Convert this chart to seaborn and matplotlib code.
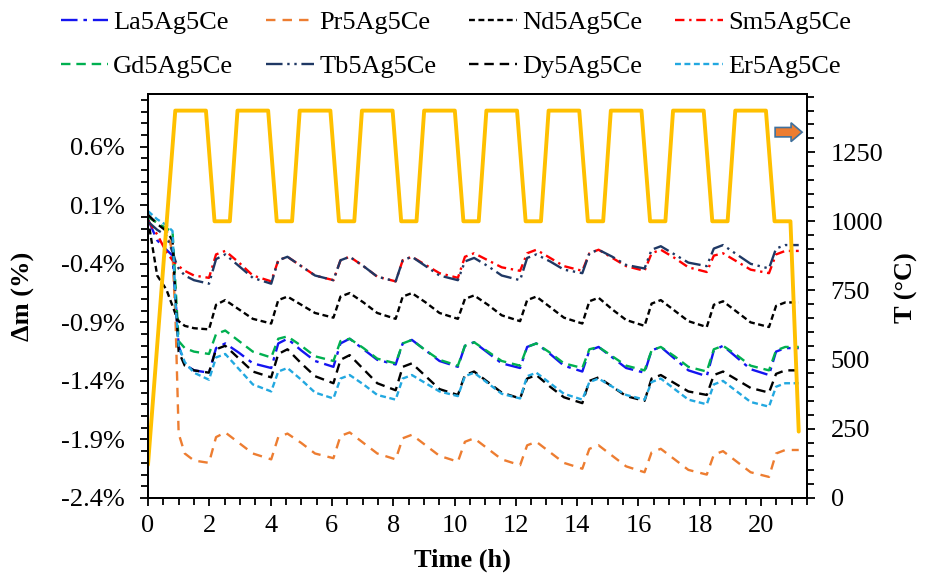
import matplotlib
matplotlib.use("Agg")
import matplotlib.pyplot as plt
import seaborn as sns
from matplotlib.ticker import MultipleLocator, FuncFormatter
from matplotlib.patches import FancyArrow

# ---------------- data ----------------
T_TIME = [0, 0.89, 1.89, 2.17, 2.67, 2.92, 3.92, 4.20, 4.70, 4.95, 5.95, 6.23, 6.73,
          6.98, 7.98, 8.26, 8.76, 9.01, 10.01, 10.29, 10.79, 11.04, 12.04, 12.32, 12.82,
          13.07, 14.07, 14.35, 14.85, 15.10, 16.10, 16.38, 16.88, 17.13, 18.13, 18.41,
          18.91, 19.16, 20.16, 20.44, 20.96, 21.23]
T_VAL = [120, 1400, 1400, 1000, 1000, 1400, 1400, 1000, 1000, 1400, 1400, 1000, 1000,
         1400, 1400, 1000, 1000, 1400, 1400, 1000, 1000, 1400, 1400, 1000, 1000,
         1400, 1400, 1000, 1000, 1400, 1400, 1000, 1000, 1400, 1400, 1000,
         1000, 1400, 1400, 1000, 1000, 240]

MASS_TIME = [0, 0.3, 0.6, 0.8, 0.9, 1.0, 1.2, 1.5,
             1.99, 2.22, 2.52, 2.97, 3.42,
             4.02, 4.25, 4.55, 5.00, 5.45,
             6.05, 6.28, 6.58, 7.03, 7.48,
             8.08, 8.31, 8.61, 9.06, 9.51,
             10.11, 10.34, 10.64, 11.09, 11.54,
             12.14, 12.37, 12.67, 13.12, 13.57,
             14.17, 14.40, 14.70, 15.15, 15.60,
             16.20, 16.43, 16.73, 17.18, 17.63,
             18.23, 18.46, 18.76, 19.21, 19.66,
             20.26, 20.49, 20.79, 21.23]

La = [-0.02, -0.20, -0.28, -0.33, -0.70, -1.10, -1.26, -1.31,
      -1.33, -1.12, -1.08, -1.16, -1.25,
      -1.29, -1.08, -1.04, -1.14, -1.23,
      -1.28, -1.08, -1.04, -1.13, -1.22,
      -1.26, -1.08, -1.05, -1.14, -1.23,
      -1.28, -1.10, -1.07, -1.16, -1.25,
      -1.29, -1.11, -1.08, -1.17, -1.27,
      -1.32, -1.14, -1.11, -1.20, -1.29,
      -1.33, -1.14, -1.11, -1.21, -1.31,
      -1.36, -1.14, -1.10, -1.20, -1.30,
      -1.35, -1.15, -1.12, -1.12]

Pr = [0.00, -0.05, -0.10, -0.30, -0.90, -1.85, -2.02, -2.08,
      -2.10, -1.88, -1.84, -1.93, -2.02,
      -2.07, -1.88, -1.85, -1.93, -2.02,
      -2.06, -1.87, -1.84, -1.93, -2.02,
      -2.07, -1.89, -1.86, -1.95, -2.04,
      -2.09, -1.92, -1.89, -1.98, -2.07,
      -2.12, -1.95, -1.92, -2.01, -2.10,
      -2.15, -1.98, -1.95, -2.04, -2.13,
      -2.18, -2.01, -1.98, -2.07, -2.16,
      -2.20, -2.03, -2.00, -2.09, -2.18,
      -2.22, -2.02, -1.99, -1.99]

Nd = [-0.02, -0.50, -0.62, -0.76, -0.83, -0.89, -0.93, -0.95,
      -0.96, -0.75, -0.71, -0.79, -0.87,
      -0.91, -0.71, -0.68, -0.75, -0.82,
      -0.86, -0.68, -0.65, -0.73, -0.82,
      -0.87, -0.68, -0.65, -0.73, -0.82,
      -0.87, -0.70, -0.67, -0.75, -0.84,
      -0.89, -0.71, -0.68, -0.77, -0.86,
      -0.91, -0.72, -0.69, -0.79, -0.88,
      -0.93, -0.74, -0.71, -0.80, -0.89,
      -0.94, -0.75, -0.72, -0.81, -0.90,
      -0.94, -0.76, -0.73, -0.73]

Sm = [-0.03, -0.15, -0.30, -0.37, -0.40, -0.42, -0.46, -0.50,
      -0.52, -0.32, -0.29, -0.39, -0.50,
      -0.55, -0.37, -0.34, -0.42, -0.50,
      -0.54, -0.37, -0.34, -0.42, -0.51,
      -0.55, -0.37, -0.34, -0.41, -0.48,
      -0.52, -0.34, -0.31, -0.37, -0.43,
      -0.46, -0.31, -0.28, -0.35, -0.42,
      -0.46, -0.31, -0.28, -0.35, -0.42,
      -0.46, -0.31, -0.28, -0.35, -0.43,
      -0.47, -0.33, -0.31, -0.38, -0.45,
      -0.48, -0.32, -0.29, -0.29]

Gd = [0.00, -0.05, -0.10, -0.12, -0.60, -1.06, -1.12, -1.15,
      -1.17, -1.00, -0.97, -1.06, -1.15,
      -1.20, -1.04, -1.02, -1.10, -1.19,
      -1.23, -1.06, -1.04, -1.12, -1.21,
      -1.25, -1.08, -1.05, -1.14, -1.22,
      -1.27, -1.10, -1.07, -1.15, -1.23,
      -1.27, -1.11, -1.08, -1.16, -1.25,
      -1.29, -1.13, -1.11, -1.19, -1.27,
      -1.31, -1.14, -1.11, -1.19, -1.28,
      -1.32, -1.13, -1.10, -1.18, -1.27,
      -1.31, -1.14, -1.11, -1.11]

Tb = [-0.04, -0.11, -0.16, -0.30, -0.38, -0.44, -0.50, -0.54,
      -0.57, -0.36, -0.32, -0.42, -0.52,
      -0.57, -0.37, -0.34, -0.42, -0.50,
      -0.54, -0.37, -0.34, -0.42, -0.51,
      -0.55, -0.37, -0.34, -0.42, -0.50,
      -0.54, -0.38, -0.35, -0.42, -0.50,
      -0.54, -0.35, -0.32, -0.38, -0.45,
      -0.48, -0.31, -0.28, -0.34, -0.41,
      -0.44, -0.28, -0.25, -0.32, -0.39,
      -0.42, -0.27, -0.24, -0.32, -0.40,
      -0.44, -0.27, -0.24, -0.24]

Dy = [0.02, -0.06, -0.12, -0.20, -0.70, -1.15, -1.27, -1.31,
      -1.33, -1.13, -1.10, -1.21, -1.32,
      -1.37, -1.17, -1.13, -1.25, -1.36,
      -1.42, -1.22, -1.18, -1.30, -1.42,
      -1.48, -1.28, -1.25, -1.36, -1.47,
      -1.52, -1.35, -1.32, -1.41, -1.50,
      -1.55, -1.38, -1.35, -1.45, -1.54,
      -1.59, -1.40, -1.37, -1.45, -1.53,
      -1.57, -1.38, -1.35, -1.42, -1.49,
      -1.52, -1.35, -1.32, -1.39, -1.46,
      -1.50, -1.34, -1.31, -1.31]

Er = [0.05, -0.02, -0.07, -0.12, -0.75, -1.10, -1.24, -1.33,
      -1.39, -1.20, -1.17, -1.30, -1.43,
      -1.49, -1.32, -1.29, -1.39, -1.50,
      -1.55, -1.38, -1.35, -1.43, -1.52,
      -1.56, -1.38, -1.35, -1.42, -1.49,
      -1.53, -1.36, -1.33, -1.42, -1.51,
      -1.55, -1.36, -1.33, -1.42, -1.51,
      -1.56, -1.41, -1.38, -1.45, -1.52,
      -1.56, -1.41, -1.38, -1.47, -1.56,
      -1.60, -1.43, -1.40, -1.49, -1.58,
      -1.62, -1.45, -1.42, -1.42]

NAMES = ["La5Ag5Ce", "Pr5Ag5Ce", "Nd5Ag5Ce", "Sm5Ag5Ce",
         "Gd5Ag5Ce", "Tb5Ag5Ce", "Dy5Ag5Ce", "Er5Ag5Ce"]
SERIES = [La, Pr, Nd, Sm, Gd, Tb, Dy, Er]
COLORS = ["#1414F0", "#ED7D31", "#000000", "#FF0000",
          "#00B050", "#1F3864", "#000000", "#22A8E0"]
DASHES = [(7, 2.5, 1.5, 2.5), (4, 3), (2.5, 1.5), (4, 2, 1, 2),
          (4, 2.5), (7, 2, 1, 2, 1, 2), (4, 2.5), (2.5, 1.5)]

Y_TICKS = [-2.4, -1.9, -1.4, -0.9, -0.4, 0.1, 0.6]
T_TICKS = [0, 250, 500, 750, 1000, 1250]
X_TICKS = [0, 2, 4, 6, 8, 10, 12, 14, 16, 18, 20]

# ---------------- style ----------------
sns.set_theme(style="ticks")
plt.rcParams['font.family'] = ['Liberation Serif', 'DejaVu Serif']
plt.rcParams['text.color'] = 'black'
plt.rcParams['axes.labelcolor'] = 'black'
FS = 19

fig = plt.figure(figsize=(9.34, 5.79), dpi=100)
ax = fig.add_axes([148 / 934, 1 - 498 / 579, (807 - 148) / 934, (498 - 94) / 579])
ax2 = ax.twinx()

handles = []
for name, vals, col, dsh in zip(NAMES, SERIES, COLORS, DASHES):
    sns.lineplot(x=MASS_TIME, y=vals, ax=ax, color=col, linewidth=1.7, legend=False)
    ln = ax.lines[-1]
    ln.set_dashes(dsh)
    ln.set_label(name)
    handles.append(ln)

sns.lineplot(x=T_TIME, y=T_VAL, ax=ax2, color="#FFC000", linewidth=2.8, legend=False)

# arrow pointing to the right axis
ax2.add_patch(FancyArrow(20.46, 1322, 0.88, 0, width=34, head_width=68,
                         head_length=0.36, length_includes_head=True,
                         facecolor="#ED7D31", edgecolor="#41719C", linewidth=1.2,
                         zorder=5))

ax.set_xlim(0, 21.5)
ax.set_ylim(-2.4, 1.05)
ax2.set_ylim(0, 1460)

ax.set_xticks(X_TICKS)
ax.xaxis.set_minor_locator(MultipleLocator(0.5))
ax.set_yticks(Y_TICKS)
ax.yaxis.set_minor_locator(MultipleLocator(0.1))
ax.yaxis.set_major_formatter(FuncFormatter(lambda v, p: f"{v:.1f}%"))
ax2.set_yticks(T_TICKS)
ax2.yaxis.set_minor_locator(MultipleLocator(50))

for a in (ax, ax2):
    for s in a.spines.values():
        s.set_color("black")
        s.set_linewidth(1.4)
    a.tick_params(which="both", direction="out", color="black", width=1.3,
                  labelsize=FS, labelcolor="black")
    a.tick_params(which="major", length=6, pad=11)
    a.tick_params(which="minor", length=5)
ax.tick_params(axis="x", which="major", pad=6)
ax.tick_params(axis="y", which="both", left=True, right=False)
ax.tick_params(axis="x", which="both", bottom=True, top=False)
ax2.tick_params(axis="y", which="both", right=True, left=False)

ax.set_xlabel("Time (h)", fontsize=FS, fontweight="bold", color="black")
ax.set_ylabel("Δm (%)", fontsize=FS, fontweight="bold", color="black")
ax2.set_ylabel("T (°C)", fontsize=FS, fontweight="bold", rotation=90, color="black")
ax.xaxis.set_label_coords(0.4765, -0.125)
ax.yaxis.set_label_coords(-0.172, 0.5)
ax2.yaxis.set_label_coords(1.133, 0.52)

# legend filled row by row (matplotlib fills column by column)
order = [0, 4, 1, 5, 2, 6, 3, 7]
leg = fig.legend(handles=[handles[i] for i in order], labels=[NAMES[i] for i in order],
                 loc="upper center", bbox_to_anchor=(0.488, 1.005), ncol=4, frameon=False,
                 fontsize=FS, handlelength=1.8, handletextpad=0.2, columnspacing=1.25,
                 labelspacing=0.78, borderpad=0.0)
for t in leg.get_texts():
    t.set_color("black")

fig.savefig("out.png", dpi=100, facecolor="white")
